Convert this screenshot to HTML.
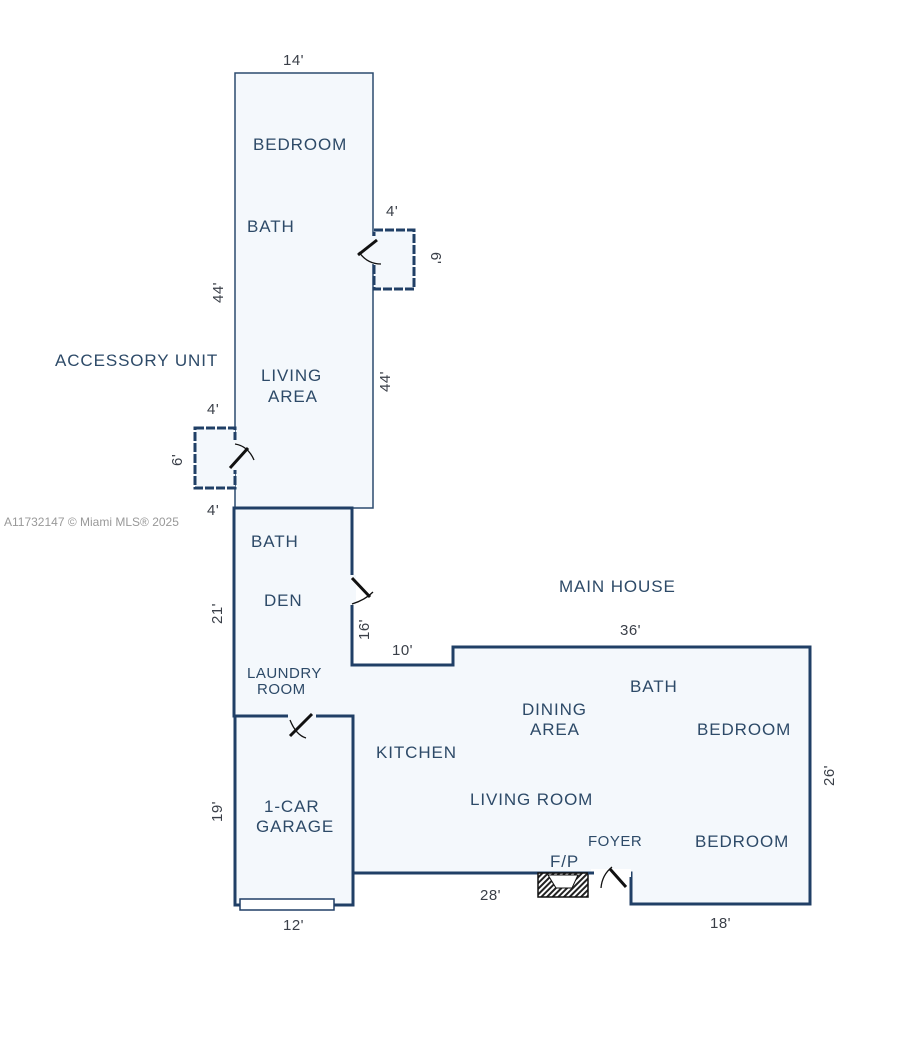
<!DOCTYPE html>
<html><head><meta charset="utf-8"><style>
body{margin:0;background:#fff}
svg{display:block}
text{font-family:"Liberation Sans",sans-serif;fill:#2d4a68;font-size:17px;letter-spacing:0.9px}
.s{font-size:15px;letter-spacing:0.5px}
.d{font-size:15px;fill:#3a3f48;letter-spacing:0.5px}
</style></head><body>
<svg width="914" height="1041" viewBox="0 0 914 1041">
<defs>
<pattern id="h" width="4" height="4" patternUnits="userSpaceOnUse" patternTransform="rotate(45)"><rect width="4" height="4" fill="#fff"/><rect width="2" height="4" fill="#222"/></pattern>
</defs>
<rect x="235" y="73" width="138" height="435" fill="#f4f8fc" stroke="#2b4a6e" stroke-width="1.5"/>
<polygon points="234,508 352,508 352,665 453,665 453,647 810,647 810,904 631,904 631,873 353,873 353,716 234,716" fill="#f4f8fc" stroke="#203f66" stroke-width="3"/>
<rect x="235" y="716" width="118" height="189" fill="#f4f8fc" stroke="#203f66" stroke-width="3"/>
<rect x="240" y="899" width="94" height="11" fill="#fff" stroke="#203f66" stroke-width="1.5"/>
<rect x="374" y="230" width="40" height="59" fill="#f4f8fc" stroke="#203f66" stroke-width="3" stroke-dasharray="9,2"/>
<rect x="195" y="428" width="40" height="60" fill="#f4f8fc" stroke="#203f66" stroke-width="3" stroke-dasharray="9,2"/>
<rect x="350" y="575" width="6" height="30" fill="#f4f8fc"/>
<rect x="288" y="713" width="28" height="6" fill="#f4f8fc"/>
<rect x="591" y="869" width="40" height="8" fill="#fff"/>
<rect x="371" y="236" width="6" height="28" fill="#f4f8fc"/>
<rect x="232" y="440" width="6" height="30" fill="#f4f8fc"/>
<g stroke="#111" stroke-width="3" fill="none">
<line x1="352" y1="578" x2="370" y2="597"/><line x1="290" y1="736" x2="312" y2="714"/>
<line x1="610" y1="869" x2="626" y2="887"/><line x1="377" y1="240" x2="358" y2="255"/>
<line x1="230" y1="468" x2="248" y2="448"/>
</g>
<g stroke="#111" stroke-width="1.3" fill="none">
<path d="M352 604 Q365 600 373 592"/><path d="M290 720 Q296 735 306 738"/>
<path d="M601 888 Q602 875 612 867"/><path d="M359 252 Q367 264 381 264"/>
<path d="M235 444 Q248 446 254 460"/>
</g>
<rect x="538" y="873" width="50" height="24" fill="url(#h)" stroke="#111" stroke-width="1.5"/>
<polygon points="548,875 578,875 572,888 556,888" fill="#fff" stroke="#111" stroke-width="1"/>
<line x1="588" y1="873" x2="594" y2="873" stroke="#203f66" stroke-width="3"/>
<text x="253" y="150">BEDROOM</text>
<text x="247" y="232">BATH</text>
<text x="261" y="381">LIVING</text><text x="268" y="402">AREA</text>
<text x="55" y="366">ACCESSORY UNIT</text>
<text x="251" y="547">BATH</text>
<text x="264" y="606">DEN</text>
<text x="247" y="678" class="s">LAUNDRY</text><text x="257" y="694" class="s">ROOM</text>
<text x="264" y="812">1-CAR</text><text x="256" y="832">GARAGE</text>
<text x="559" y="592">MAIN HOUSE</text>
<text x="630" y="692">BATH</text>
<text x="522" y="715">DINING</text><text x="530" y="735">AREA</text>
<text x="697" y="735">BEDROOM</text>
<text x="376" y="758">KITCHEN</text>
<text x="470" y="805">LIVING ROOM</text>
<text x="695" y="847">BEDROOM</text>
<text x="588" y="846" class="s">FOYER</text>
<text x="550" y="867">F/P</text>
<text x="283" y="65" class="d">14'</text>
<text x="386" y="216" class="d">4'</text>
<text x="207" y="414" class="d">4'</text>
<text x="207" y="515" class="d">4'</text>
<text x="392" y="655" class="d">10'</text>
<text x="620" y="635" class="d">36'</text>
<text x="480" y="900" class="d">28'</text>
<text x="710" y="928" class="d">18'</text>
<text x="283" y="930" class="d">12'</text>
<text class="d" transform="translate(223,303) rotate(-90)">44'</text>
<text class="d" transform="translate(390,392) rotate(-90)">44'</text>
<text class="d" transform="translate(431,252) rotate(90)">6'</text>
<text class="d" transform="translate(182,466) rotate(-90)">6'</text>
<text class="d" transform="translate(222,624) rotate(-90)">21'</text>
<text class="d" transform="translate(369,640) rotate(-90)">16'</text>
<text class="d" transform="translate(222,822) rotate(-90)">19'</text>
<text class="d" transform="translate(834,786) rotate(-90)">26'</text>
<text x="4" y="526" style="font-size:12px;fill:#999;letter-spacing:0">A11732147 © Miami MLS® 2025</text>
</svg>
</body></html>
